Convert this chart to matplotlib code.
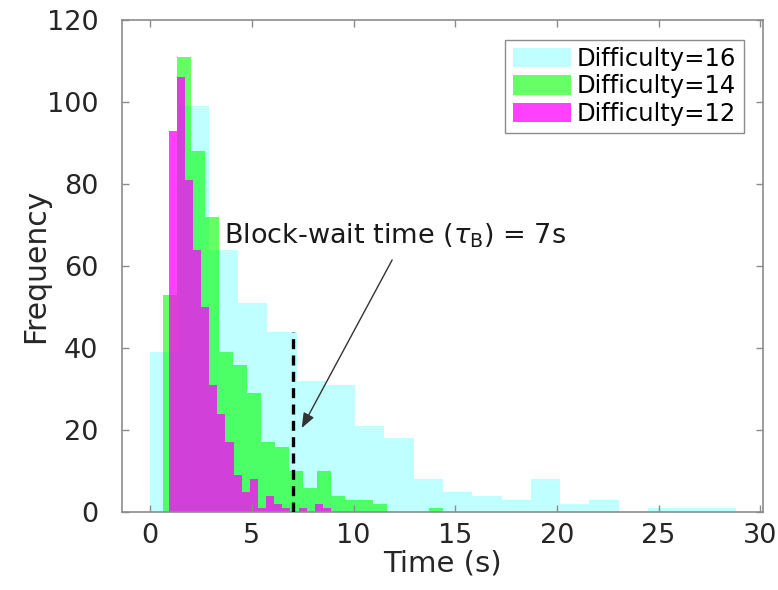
import numpy as np
import matplotlib
matplotlib.use('Agg')
import matplotlib.pyplot as plt

# bin edges of the three histograms (seconds)
edges_16 = np.linspace(0.0, 28.8, 21)
edges_14 = np.linspace(0.62, 14.42, 21)
edges_12 = np.linspace(0.9, 8.9, 21)

# counts per bin
counts_16 = [39, 99, 64, 51, 44, 32, 31, 21, 18, 8, 5, 4, 3, 8, 2, 3, 0, 1, 1, 1]
counts_14 = [53, 111, 88, 72, 39, 36, 29, 17, 16, 10, 6, 10, 4, 3, 3, 2, 0, 0, 0, 1]
counts_12 = [93, 106, 81, 64, 50, 31, 24, 17, 9, 5, 8, 1, 4, 2, 1, 0, 1, 0, 2, 1]

labels = ['Difficulty=16', 'Difficulty=14', 'Difficulty=12']

block_wait = 7      # tau_B in seconds
marker_height = 44  # height of the dashed marker

plt.rcParams['font.family'] = ['DejaVu Sans']
plt.rcParams['mathtext.fontset'] = 'dejavusans'

fig = plt.figure(figsize=(7.78, 5.90), dpi=100)
ax = fig.add_axes([0.157, 0.132, 0.824, 0.834])

h16 = ax.stairs(counts_16, edges_16, fill=True, color=(0.0, 1.0, 1.0), alpha=0.25,
                linewidth=0, label=labels[0])
h14 = ax.stairs(counts_14, edges_14, fill=True, color=(0.0, 1.0, 0.0), alpha=0.6,
                linewidth=0, label=labels[1])
h12 = ax.stairs(counts_12, edges_12, fill=True, color=(1.0, 0.0, 1.0), alpha=0.75,
                linewidth=0, label=labels[2])

# dashed marker at the block-wait time
ax.plot([block_wait, block_wait], [0, marker_height], color='black', lw=2.4,
        dashes=(3.0, 1.9), zorder=5)

ax.text(3.62, 65.5, r'Block-wait time ($\tau_{\mathrm{B}}$) = 7s', fontsize=19.5,
        color='#1a1a1a', va='baseline', ha='left')
ax.annotate('', xy=(7.45, 20.5), xytext=(11.9, 61.5),
            arrowprops=dict(arrowstyle='-|>,head_length=0.9,head_width=0.35',
                            color='#333333', lw=1.0, shrinkA=0, shrinkB=0))

ax.set_xlim(-1.38, 30.15)
ax.set_ylim(0, 120)
ax.set_xticks(np.arange(0, 31, 5))
ax.set_yticks(np.arange(0, 121, 20))
ax.set_xlabel('Time (s)', fontsize=21, color='#262626', labelpad=0)
ax.set_ylabel('Frequency', fontsize=21.5, color='#262626', labelpad=-2)

for s in ax.spines.values():
    s.set_color('#8c8c8c')
    s.set_linewidth(1.2)
ax.tick_params(direction='in', length=5, width=1.0, color='#8c8c8c',
               labelsize=19.5, labelcolor='#262626', top=True, right=True)
ax.tick_params(axis='x', pad=8)
ax.tick_params(axis='y', pad=17)

leg = ax.legend(handles=[h16, h14, h12], loc='upper right', fontsize=17.5,
                frameon=True, fancybox=False, framealpha=1, edgecolor='#8c8c8c',
                borderaxespad=0.8, borderpad=0.3, labelspacing=0.15,
                handlelength=2.4, handleheight=0.85, handletextpad=0.25)
leg.get_frame().set_linewidth(1.0)

fig.savefig('out.png', dpi=100)
